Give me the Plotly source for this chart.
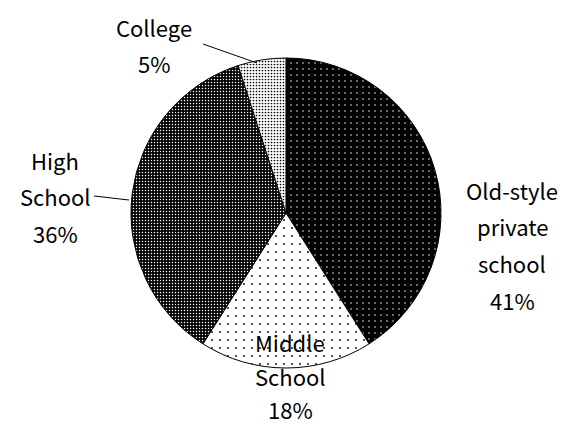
import plotly.graph_objects as go

# Share of schooling by level
levels = ["Old-style private school", "Middle School", "High School", "College"]
label_lines = [["Old-style", "private", "school"], ["Middle", "School"], ["High", "School"], ["College"]]
shares = [41, 18, 36, 5]

bg_colors = ["black", "white", "black", "white"]
fg_colors = ["white", "black", "white", "black"]
pat_sizes = [6, 8, 3, 3]
pat_solid = [0.05, 0.04, 0.2, 0.25]

fig = go.Figure(go.Pie(
    labels=levels,
    values=shares,
    sort=False,
    direction="clockwise",
    rotation=0,
    textinfo="none",
    hoverinfo="label+percent",
    showlegend=False,
    marker=dict(
        colors=bg_colors,
        line=dict(color="black", width=1),
        pattern=dict(shape=".", bgcolor=bg_colors, fgcolor=fg_colors,
                     size=pat_sizes, solidity=pat_solid, fillmode="replace"),
    ),
    domain=dict(x=[131 / 579, 441 / 579], y=[1 - 368 / 426, 1 - 58 / 426]),
))

font = dict(family="Noto Sans CJK KR, Noto Sans, sans-serif", size=22, color="black")

# Slice labels: one annotation per text line (first-line centre, line step in px)
label_pos = [(512, 190, 36.5), (290, 342, 33.5), (55, 160, 36.5), (154, 27, 36.5)]
for lines, v, (x, y0, step) in zip(label_lines, shares, label_pos):
    for i, t in enumerate(lines + [f"{v}%"]):
        fig.add_annotation(x=x / 579, y=1 - (y0 + i * step) / 426,
                           xref="paper", yref="paper", text=t, showarrow=False,
                           font=font, xanchor="center", yanchor="middle")

# Leader lines for the labels on the left side
fig.add_shape(type="line", xref="paper", yref="paper",
              x0=203 / 579, y0=1 - 44 / 426, x1=257 / 579, y1=1 - 63 / 426,
              line=dict(color="black", width=1))
fig.add_shape(type="line", xref="paper", yref="paper",
              x0=94 / 579, y0=1 - 196 / 426, x1=129 / 579, y1=1 - 200 / 426,
              line=dict(color="black", width=1))

fig.update_layout(width=579, height=426, margin=dict(l=0, r=0, t=0, b=0),
                  paper_bgcolor="white", plot_bgcolor="white")

fig.write_html("out.html")
